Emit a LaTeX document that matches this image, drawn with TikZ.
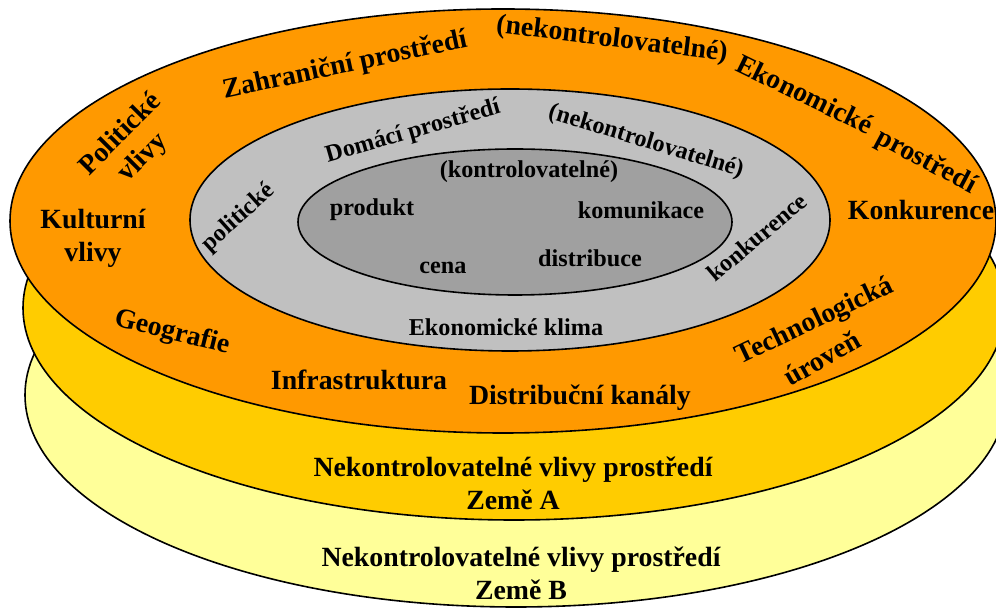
\documentclass[tikz,border=0pt]{standalone}
\usepackage{fontspec}
\setmainfont{Liberation Serif}
\definecolor{vnejsi}{HTML}{FF9900}
\definecolor{zemeA}{HTML}{FFCC00}
\definecolor{zemeB}{HTML}{FFFF99}
\definecolor{domaci}{HTML}{C0C0C0}
\definecolor{jadro}{HTML}{A0A0A0}
\begin{document}
\begin{tikzpicture}[x=1pt,y=1pt,
    vrstva/.style={draw=black,line width=1.6pt},
    velky/.style={font=\fontsize{27.8}{33}\selectfont\bfseries,align=center,inner sep=0pt},
    maly/.style={font=\fontsize{24.2}{28}\selectfont\bfseries,align=center,inner sep=0pt}]
    \useasboundingbox (0,0) rectangle (996,610);
    % vrstvy odspodu nahoru
    \path[vrstva,fill=zemeB] (516,215) ellipse [x radius=491,y radius=212];
    \path[vrstva,fill=zemeA] (514,302) ellipse [x radius=491,y radius=212];
    \path[vrstva,fill=vnejsi] (503,389) ellipse [x radius=493,y radius=212];
    \path[vrstva,fill=domaci] (510,390) ellipse [x radius=320,y radius=131];
    \path[vrstva,fill=jadro] (515,388) ellipse [x radius=217,y radius=73];
    % zahranicni prostredi
    \node[velky,rotate=45] (politicke) at (119,477) {Politické};
    \node[velky,rotate=45] (politvlivy) at (143,452) {vlivy};
    \node[velky] (kulturni) at (93,371.5) {Kulturní\\vlivy};
    \node[velky,rotate=12] (zahranicni) at (345,544) {Zahraniční prostředí};
    \node[velky,rotate=-7] (nekontrol) at (612,570) {(nekontrolovatelné)};
    \node[velky,rotate=-26] (ekonomicke) at (805,516) {Ekonomické};
    \node[velky,rotate=-28] (ekprostredi) at (926,448) {prostředí};
    \node[velky] (konkurence) at (921,400) {Konkurence};
    \node[velky,rotate=25.5] (technol) at (815,288) {Technologická};
    \node[velky,rotate=29.5] (uroven) at (822,252) {úroveň};
    \node[velky,rotate=-14] (geografie) at (172,277) {Geografie};
    \node[velky] (infra) at (359,230) {Infrastruktura};
    \node[velky] (kanaly) at (580,212) {Distribuční kanály};
    % domaci prostredi
    \node[maly,rotate=16] (domaci) at (413,478) {Domácí prostředí};
    \node[maly,rotate=-17] (domnekontrol) at (646,468) {(nekontrolovatelné)};
    \node[maly,rotate=42] (dompolit) at (239,392) {politické};
    \node[maly,rotate=40] (domkonk) at (757,373) {konkurence};
    \node[maly] (klima) at (506,283) {Ekonomické klima};
    % marketingovy mix
    \node[maly] (kontrol) at (529,438) {(kontrolovatelné)};
    \node[maly] (produkt) at (372,400) {produkt};
    \node[maly] (komunikace) at (641,400) {komunikace};
    \node[maly] (cena) at (443,342) {cena};
    \node[maly] (distribuce) at (590,352) {distribuce};
    % zeme
    \node[velky] (zemeA) at (513,126.5) {Nekontrolovatelné vlivy prostředí\\Země A};
    \node[velky] (zemeB) at (521,36.5) {Nekontrolovatelné vlivy prostředí\\Země B};
\end{tikzpicture}
\end{document}
